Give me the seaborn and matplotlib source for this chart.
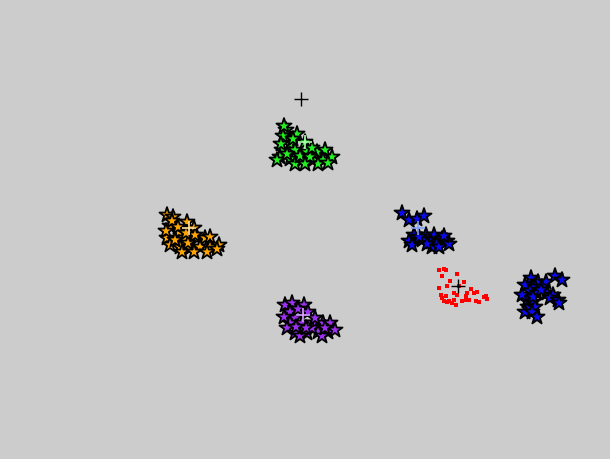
import matplotlib
matplotlib.use("Agg")
import matplotlib.pyplot as plt
import seaborn as sns
import pandas as pd

# ---- data (pixel-like coordinates, y grows downward) ----
green_x = [286, 297, 283, 305, 290, 282, 295, 307, 317, 325, 280, 290, 302, 313, 323, 332, 295, 318, 277, 287, 300, 310, 328, 284, 293, 312, 281, 305]
green_y = [131, 135, 137, 143, 145, 151, 151, 153, 153, 151, 158, 160, 161, 161, 161, 158, 165, 165, 161, 155, 157, 158, 164, 127, 140, 149, 145, 165]

orange_x = [167, 173, 187, 170, 194, 179, 167, 184, 197, 205, 210, 170, 180, 190, 200, 210, 219, 182, 194, 207, 217, 175, 172, 188, 178, 195, 166, 186]
orange_y = [216, 218, 223, 227, 229, 233, 239, 239, 239, 239, 238, 246, 248, 249, 248, 248, 246, 253, 253, 253, 250, 241, 222, 244, 228, 236, 232, 234]

purple_x = [285, 292, 304, 290, 308, 295, 290, 302, 313, 323, 330, 287, 295, 307, 318, 328, 335, 300, 322, 312, 298, 315, 284, 306, 296, 325]
purple_y = [306, 304, 306, 313, 313, 319, 324, 324, 324, 324, 324, 329, 334, 334, 333, 333, 331, 337, 337, 329, 310, 319, 318, 329, 328, 329]

blue_x = [402, 409, 417, 424, 414, 409, 412, 426, 434, 442, 447, 431, 437, 432, 439, 449, 422, 427, 419, 444,
          531, 538, 546, 555, 562, 525, 535, 542, 530, 537, 547, 553, 550, 558, 559, 527, 533, 528, 535, 525, 532, 537, 533, 522, 541]
blue_y = [214, 221, 220, 217, 236, 242, 246, 236, 236, 240, 242, 243, 245, 248, 248, 245, 241, 245, 238, 237,
          279, 283, 283, 277, 281, 286, 288, 288, 292, 294, 294, 296, 299, 301, 304, 302, 303, 308, 308, 313, 313, 318, 298, 296, 291]

red_x = [444, 439, 446, 442, 457, 450, 447, 439, 464, 459, 441, 446, 442, 449, 452, 456, 454, 457, 467, 466,
         471, 474, 477, 469, 476, 479, 486, 487, 484, 444, 447, 466, 462, 454]
red_y = [270, 271, 271, 277, 275, 282, 287, 289, 283, 287, 296, 297, 299, 302, 304, 306, 294, 296, 294, 297,
         290, 294, 293, 301, 302, 303, 297, 300, 298, 302, 303, 301, 302, 301]

center_names = ["green", "orange", "purple", "blue"]
center_x = [305, 189, 303, 418]
center_y = [143, 229, 316, 229]

ref_x = [301, 458]
ref_y = [100, 287]

star_colors = {"green": "#22ee22", "orange": "#ffa500", "purple": "#9b30f0", "blue": "#0a0af0"}
center_colors = {"green": "#aaffaa", "orange": "#ffe0a0", "purple": "#d7a0ff", "blue": "#80a0ff"}

rows = []
for name, xs, ys in [("green", green_x, green_y), ("orange", orange_x, orange_y),
                     ("purple", purple_x, purple_y), ("blue", blue_x, blue_y)]:
    for a, b in zip(xs, ys):
        rows.append({"x": a, "y": b, "cluster": name})
stars = pd.DataFrame(rows)
reds = pd.DataFrame({"x": red_x, "y": red_y})
centers = pd.DataFrame({"x": center_x, "y": center_y, "cluster": center_names})
refs = pd.DataFrame({"x": ref_x, "y": ref_y})

fig = plt.figure(figsize=(6.1, 4.6), dpi=100, facecolor="#cccccc")
ax = fig.add_axes([0, 0, 1, 1])
ax.set_facecolor("#cccccc")

sns.scatterplot(data=stars, x="x", y="y", hue="cluster", palette=star_colors,
                marker="*", s=130, edgecolor="black", linewidth=1.3, legend=False, ax=ax)
sns.scatterplot(data=reds, x="x", y="y", color="#ff0000", marker="s", s=10,
                edgecolor="none", legend=False, ax=ax)
sns.scatterplot(data=centers, x="x", y="y", hue="cluster", palette=center_colors,
                marker="+", s=110, linewidth=1.2, legend=False, ax=ax)
sns.scatterplot(data=refs, x="x", y="y", color="black", marker="+", s=110,
                linewidth=1.0, legend=False, ax=ax)

ax.set_xlim(0, 610)
ax.set_ylim(460, 0)
ax.axis("off")
fig.savefig("out.png", dpi=100, facecolor="#cccccc")
